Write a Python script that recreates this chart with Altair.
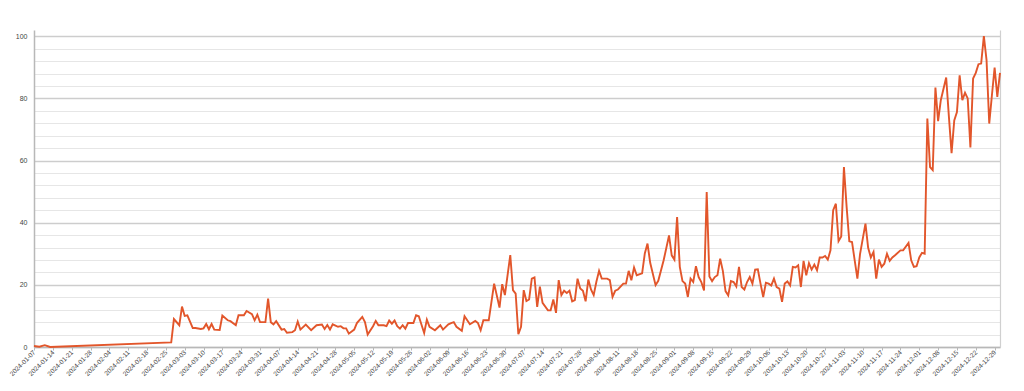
import altair as alt
import pandas as pd

dates = [
    "2024-01-07", "2024-01-09", "2024-01-11", "2024-01-13", "2024-02-27", "2024-02-28",
    "2024-03-01", "2024-03-02", "2024-03-03", "2024-03-04", "2024-03-06", "2024-03-07",
    "2024-03-09", "2024-03-10", "2024-03-11", "2024-03-12", "2024-03-13", "2024-03-14",
    "2024-03-16", "2024-03-17", "2024-03-19", "2024-03-20", "2024-03-22", "2024-03-23",
    "2024-03-25", "2024-03-26", "2024-03-28", "2024-03-29", "2024-03-30", "2024-03-31",
    "2024-04-02", "2024-04-03", "2024-04-04", "2024-04-05", "2024-04-06", "2024-04-08",
    "2024-04-09", "2024-04-10", "2024-04-12", "2024-04-13", "2024-04-14", "2024-04-15",
    "2024-04-17", "2024-04-19", "2024-04-21", "2024-04-23", "2024-04-24", "2024-04-25",
    "2024-04-26", "2024-04-27", "2024-04-29", "2024-04-30", "2024-05-01", "2024-05-02",
    "2024-05-03", "2024-05-05", "2024-05-06", "2024-05-08", "2024-05-09", "2024-05-10",
    "2024-05-12", "2024-05-13", "2024-05-14", "2024-05-16", "2024-05-17", "2024-05-18",
    "2024-05-19", "2024-05-20", "2024-05-21", "2024-05-22", "2024-05-23", "2024-05-24",
    "2024-05-25", "2024-05-27", "2024-05-28", "2024-05-29", "2024-05-31", "2024-06-01",
    "2024-06-02", "2024-06-04", "2024-06-05", "2024-06-06", "2024-06-07", "2024-06-09",
    "2024-06-10", "2024-06-11", "2024-06-12", "2024-06-14", "2024-06-15", "2024-06-17",
    "2024-06-19", "2024-06-20", "2024-06-21", "2024-06-22", "2024-06-24", "2024-06-26",
    "2024-06-28", "2024-06-29", "2024-06-30", "2024-07-02", "2024-07-03", "2024-07-04",
    "2024-07-05", "2024-07-06", "2024-07-07", "2024-07-08", "2024-07-09", "2024-07-10",
    "2024-07-11", "2024-07-12", "2024-07-13", "2024-07-14", "2024-07-16", "2024-07-17",
    "2024-07-18", "2024-07-19", "2024-07-20", "2024-07-21", "2024-07-22", "2024-07-23",
    "2024-07-24", "2024-07-25", "2024-07-26", "2024-07-27", "2024-07-28", "2024-07-29",
    "2024-07-30", "2024-07-31", "2024-08-01", "2024-08-02", "2024-08-03", "2024-08-04",
    "2024-08-05", "2024-08-07", "2024-08-08", "2024-08-09", "2024-08-10", "2024-08-11",
    "2024-08-13", "2024-08-14", "2024-08-15", "2024-08-16", "2024-08-17", "2024-08-18",
    "2024-08-20", "2024-08-21", "2024-08-22", "2024-08-23", "2024-08-25", "2024-08-26",
    "2024-08-28", "2024-08-30", "2024-08-31", "2024-09-01", "2024-09-02", "2024-09-03",
    "2024-09-04", "2024-09-05", "2024-09-06", "2024-09-07", "2024-09-08", "2024-09-09",
    "2024-09-10", "2024-09-11", "2024-09-12", "2024-09-13", "2024-09-14", "2024-09-15",
    "2024-09-16", "2024-09-17", "2024-09-18", "2024-09-19", "2024-09-20", "2024-09-21",
    "2024-09-22", "2024-09-23", "2024-09-24", "2024-09-25", "2024-09-26", "2024-09-27",
    "2024-09-28", "2024-09-29", "2024-09-30", "2024-10-01", "2024-10-02", "2024-10-03",
    "2024-10-04", "2024-10-05", "2024-10-06", "2024-10-07", "2024-10-08", "2024-10-09",
    "2024-10-10", "2024-10-11", "2024-10-12", "2024-10-13", "2024-10-14", "2024-10-15",
    "2024-10-16", "2024-10-17", "2024-10-18", "2024-10-19", "2024-10-20", "2024-10-21",
    "2024-10-22", "2024-10-23", "2024-10-24", "2024-10-25", "2024-10-26", "2024-10-27",
    "2024-10-28", "2024-10-29", "2024-10-30", "2024-10-31", "2024-11-01", "2024-11-02",
    "2024-11-03", "2024-11-04", "2024-11-05", "2024-11-06", "2024-11-07", "2024-11-08",
    "2024-11-09", "2024-11-11", "2024-11-12", "2024-11-13", "2024-11-14", "2024-11-15",
    "2024-11-16", "2024-11-17", "2024-11-18", "2024-11-19", "2024-11-20", "2024-11-21",
    "2024-11-22", "2024-11-24", "2024-11-25", "2024-11-27", "2024-11-28", "2024-11-29",
    "2024-11-30", "2024-12-01", "2024-12-02", "2024-12-03", "2024-12-04", "2024-12-05",
    "2024-12-06", "2024-12-07", "2024-12-08", "2024-12-09", "2024-12-11", "2024-12-12",
    "2024-12-13", "2024-12-14", "2024-12-15", "2024-12-16", "2024-12-17", "2024-12-18",
    "2024-12-19", "2024-12-20", "2024-12-21", "2024-12-22", "2024-12-23", "2024-12-24",
    "2024-12-25", "2024-12-26", "2024-12-27", "2024-12-28", "2024-12-29", "2024-12-30",
    "2024-12-31",
]

values = [
    0.3, 0.1, 0.6, 0.0, 1.5, 9.0,
    7.0, 13.0, 10.0, 10.2, 6.1, 6.1,
    5.8, 6.0, 7.4, 5.7, 7.4, 5.6,
    5.5, 10.1, 8.6, 8.3, 7.0, 10.2,
    10.2, 11.6, 10.6, 8.6, 10.4, 8.0,
    8.0, 15.6, 8.0, 7.3, 8.3, 5.6,
    5.8, 4.6, 4.8, 5.4, 8.2, 5.6,
    7.2, 5.4, 7.0, 7.2, 5.8, 7.1,
    5.6, 7.3, 6.5, 6.7, 6.0, 6.0,
    4.3, 5.6, 7.7, 9.7, 8.0, 4.0,
    6.7, 8.4, 7.0, 7.0, 6.7, 8.5,
    7.5, 8.5, 6.7, 5.9, 7.0, 5.9,
    7.7, 7.7, 10.2, 9.9, 4.5, 8.8,
    6.5, 5.4, 6.2, 7.0, 5.6, 7.3,
    7.7, 8.0, 6.5, 5.2, 9.9, 7.3,
    8.4, 7.7, 5.4, 8.6, 8.6, 20.4,
    12.7, 20.2, 16.7, 29.6, 18.3, 17.2,
    4.1, 6.5, 18.3, 14.8, 15.3, 22.0,
    22.4, 12.9, 19.4, 14.2, 11.8, 11.8,
    15.3, 11.0, 21.5, 16.7, 18.1, 17.4,
    18.1, 14.7, 15.1, 22.0, 18.8, 18.1,
    14.7, 21.7, 18.5, 16.7, 21.0, 24.5,
    22.0, 22.0, 21.5, 16.1, 18.1, 18.5,
    20.4, 20.4, 24.5, 21.5, 25.6, 23.1,
    23.7, 30.1, 33.3, 27.1, 19.9, 21.3,
    27.9, 35.9, 29.5, 28.1, 41.8, 25.8,
    21.2, 20.4, 16.1, 22.0, 20.9, 26.0,
    22.5, 20.9, 18.2, 49.9, 22.7, 21.2,
    22.5, 23.1, 28.4, 24.5, 18.0, 16.6,
    21.2, 20.9, 19.5, 25.8, 19.3, 18.5,
    20.9, 22.5, 20.4, 24.9, 25.0, 20.4,
    16.1, 20.7, 20.4, 19.8, 22.0, 19.3,
    18.8, 14.5, 20.4, 21.1, 19.8, 25.8,
    25.6, 26.3, 19.3, 27.7, 23.1, 27.0,
    24.9, 26.5, 24.7, 28.8, 28.8, 29.3,
    28.1, 31.1, 44.0, 46.1, 34.1, 35.6,
    57.9, 45.1, 34.0, 33.8, 27.9, 22.0,
    30.0, 39.7, 31.9, 28.8, 30.6, 22.0,
    28.1, 25.8, 26.8, 30.0, 27.7, 28.8,
    29.5, 31.1, 31.1, 33.5, 27.9, 25.8,
    26.0, 28.8, 30.3, 30.0, 73.5, 57.9,
    56.9, 83.5, 72.7, 79.4, 86.7, 74.2,
    62.4, 72.9, 75.6, 87.4, 79.4, 81.8,
    80.0, 64.2, 86.4, 88.2, 91.0, 91.2,
    100.0, 92.3, 71.9, 81.0, 89.9, 80.5,
    88.2,
]

week_ticks = [
    "2024-01-07", "2024-01-14", "2024-01-21", "2024-01-28",
    "2024-02-04", "2024-02-11", "2024-02-18", "2024-02-25",
    "2024-03-03", "2024-03-10", "2024-03-17", "2024-03-24", "2024-03-31",
    "2024-04-07", "2024-04-14", "2024-04-21", "2024-04-28",
    "2024-05-05", "2024-05-12", "2024-05-19", "2024-05-26",
    "2024-06-02", "2024-06-09", "2024-06-16", "2024-06-23", "2024-06-30",
    "2024-07-07", "2024-07-14", "2024-07-21", "2024-07-28",
    "2024-08-04", "2024-08-11", "2024-08-18", "2024-08-25",
    "2024-09-01", "2024-09-08", "2024-09-15", "2024-09-22", "2024-09-29",
    "2024-10-06", "2024-10-13", "2024-10-20", "2024-10-27",
    "2024-11-03", "2024-11-10", "2024-11-17", "2024-11-24",
    "2024-12-01", "2024-12-08", "2024-12-15", "2024-12-22", "2024-12-29",
]
x_start = "2024-01-07"
x_end = "2024-12-31"
y_ticks = list(range(0, 101, 4))


def ms(s):
    return int(pd.Timestamp(s, tz="UTC").value // 10**6)


df = pd.DataFrame({"date": dates, "value": values})

font = "Liberation Sans"
line_color = "#e2562b"
axis_gray = "#b8b8b8"

x_enc = alt.X(
    "date:T",
    scale=alt.Scale(type="utc", domain=[ms(x_start), ms(x_end)]),
    axis=alt.Axis(
        title=None,
        values=[ms(t) for t in week_ticks],
        labelExpr="utcFormat(datum.value, '%Y-%m-%d')",
        labelAngle=-45,
        labelAlign="right",
        labelBaseline="middle",
        labelFontSize=6.5,
        labelColor="#444444",
        labelFont=font,
        labelPadding=1,
        labelOverlap=False,
        labelFlush=False,
        labelBound=False,
        grid=False,
        tickSize=3,
        tickColor=axis_gray,
        domainColor=axis_gray,
        domainWidth=1.5,
    ),
)

y_scale = alt.Scale(domain=[0, 102], nice=False, zero=True)

line = alt.Chart(df).mark_line(color=line_color, strokeWidth=1.9).encode(
    x=x_enc,
    y=alt.Y(
        "value:Q",
        scale=y_scale,
        axis=alt.Axis(
            title=None,
            values=y_ticks,
            labelExpr="datum.value % 20 === 0 ? datum.label : ''",
            labelFontSize=7,
            labelColor="#444444",
            labelFont=font,
            labelPadding=7,
            ticks=False,
            grid=True,
            gridColor={"condition": {"test": "datum.value % 20 === 0", "value": "#cdcdcd"}, "value": "#e6e6e6"},
            gridWidth={"condition": {"test": "datum.value % 20 === 0", "value": 1.4}, "value": 1.0},
            domainColor=axis_gray,
            domainWidth=1.5,
        ),
    ),
)

border = alt.Chart(df).mark_line(opacity=0).encode(
    x=x_enc,
    y=alt.Y(
        "value:Q",
        scale=y_scale,
        axis=alt.Axis(
            orient="right", title=None, labels=False, ticks=False, grid=False,
            domainColor="#d0d0d0", domainWidth=1.2,
        ),
    ),
)

chart = (
    alt.layer(border, line)
    .resolve_scale(y="independent")
    .properties(
        width=966,
        height=317,
        autosize=alt.AutoSizeParams(type="none"),
        padding={"left": 26, "top": 22, "right": 16, "bottom": 36},
        background="white",
    )
    .configure_view(stroke=None)
)

chart.save("out.html", embed_options={"renderer": "svg", "actions": False})
